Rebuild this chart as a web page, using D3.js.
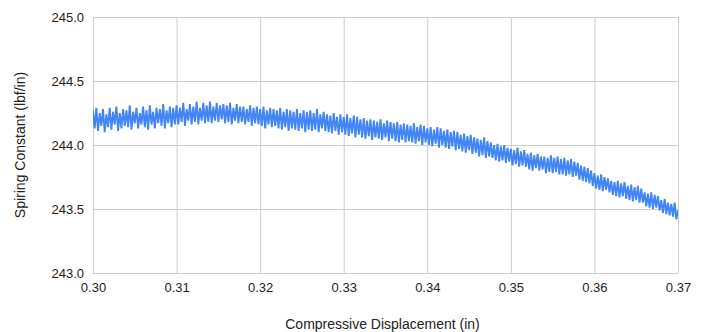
<!DOCTYPE html>
<html>
<head>
<meta charset="utf-8">
<script src="https://cdn.jsdelivr.net/npm/d3@7"></script>
<style>
  body { margin: 0; background: #fff; }
  text { font-family: Arial, "Liberation Sans", sans-serif; }
</style>
</head>
<body>
<svg></svg>
<script>
// displacement is sampled every 0.0002 in from 0.30 to 0.37
let xStart = 0.30, xStep = 0.0002;

// spring constant readings (lbf/in)
let springK = [
  244.27, 244.13, 244.29, 244.11, 244.25, 244.15, 244.28, 244.10, 244.24, 244.14,
  244.29, 244.12, 244.26, 244.16, 244.30, 244.11, 244.25, 244.13, 244.28, 244.15,
  244.27, 244.14, 244.31, 244.12, 244.26, 244.17, 244.29, 244.13, 244.25, 244.16,
  244.30, 244.14, 244.27, 244.12, 244.31, 244.16, 244.26, 244.13, 244.29, 244.17,
  244.28, 244.15, 244.32, 244.13, 244.27, 244.17, 244.30, 244.14, 244.29, 244.16,
  244.31, 244.16, 244.29, 244.18, 244.33, 244.15, 244.28, 244.19, 244.32, 244.16,
  244.30, 244.18, 244.34, 244.16, 244.29, 244.19, 244.33, 244.17, 244.31, 244.18,
  244.34, 244.17, 244.30, 244.19, 244.33, 244.18, 244.31, 244.20, 244.32, 244.17,
  244.31, 244.18, 244.33, 244.16, 244.29, 244.19, 244.32, 244.17, 244.30, 244.18,
  244.30, 244.16, 244.28, 244.18, 244.31, 244.15, 244.29, 244.17, 244.30, 244.16,
  244.28, 244.15, 244.30, 244.13, 244.27, 244.16, 244.29, 244.14, 244.28, 244.15,
  244.27, 244.13, 244.29, 244.12, 244.26, 244.14, 244.28, 244.11, 244.27, 244.13,
  244.26, 244.12, 244.28, 244.11, 244.25, 244.13, 244.27, 244.10, 244.26, 244.12,
  244.27, 244.11, 244.25, 244.12, 244.28, 244.10, 244.24, 244.13, 244.26, 244.11,
  244.24, 244.10, 244.23, 244.09, 244.25, 244.11, 244.22, 244.08, 244.24, 244.10,
  244.22, 244.08, 244.24, 244.07, 244.21, 244.09, 244.23, 244.06, 244.22, 244.08,
  244.20, 244.06, 244.21, 244.05, 244.19, 244.07, 244.20, 244.04, 244.19, 244.06,
  244.18, 244.05, 244.20, 244.04, 244.17, 244.06, 244.19, 244.03, 244.18, 244.05,
  244.17, 244.03, 244.18, 244.02, 244.16, 244.04, 244.17, 244.02, 244.16, 244.03,
  244.15, 244.02, 244.17, 244.01, 244.14, 244.03, 244.16, 244.00, 244.15, 244.02,
  244.13, 244.00, 244.14, 243.99, 244.12, 244.01, 244.14, 243.98, 244.13, 244.00,
  244.11, 243.98, 244.12, 243.97, 244.10, 243.99, 244.11, 243.96, 244.10, 243.97,
  244.08, 243.95, 244.09, 243.94, 244.07, 243.96, 244.08, 243.93, 244.06, 243.94,
  244.05, 243.91, 244.04, 243.92, 244.06, 243.90, 244.03, 243.91, 244.02, 243.90,
  244.00, 243.88, 244.01, 243.87, 243.99, 243.88, 244.00, 243.86, 243.98, 243.87,
  243.97, 243.84, 243.96, 243.85, 243.98, 243.83, 243.95, 243.84, 243.96, 243.83,
  243.93, 243.81, 243.94, 243.80, 243.92, 243.82, 243.93, 243.80, 243.91, 243.81,
  243.91, 243.78, 243.90, 243.79, 243.92, 243.78, 243.90, 243.79, 243.91, 243.77,
  243.89, 243.77, 243.90, 243.76, 243.88, 243.77, 243.89, 243.75, 243.87, 243.76,
  243.86, 243.73, 243.84, 243.72, 243.83, 243.71, 243.82, 243.70, 243.80, 243.68,
  243.78, 243.66, 243.76, 243.65, 243.77, 243.64, 243.75, 243.65, 243.74, 243.63,
  243.72, 243.61, 243.71, 243.60, 243.72, 243.59, 243.70, 243.60, 243.71, 243.58,
  243.68, 243.57, 243.69, 243.56, 243.67, 243.57, 243.68, 243.55, 243.66, 243.55,
  243.63, 243.52, 243.62, 243.51, 243.63, 243.50, 243.61, 243.51, 243.60, 243.49,
  243.57, 243.47, 243.58, 243.46, 243.55, 243.45, 243.54, 243.44, 243.55, 243.42,
  243.49
];

let xTicks = [0.30, 0.31, 0.32, 0.33, 0.34, 0.35, 0.36, 0.37];
let yTicks = [243.0, 243.5, 244.0, 244.5, 245.0];

let width = 702, height = 332;
let margin = {top: 17, right: 24, bottom: 59, left: 93};
let w = width - margin.left - margin.right;
let h = height - margin.top - margin.bottom;

let svg = d3.select("svg").attr("width", width).attr("height", height);
let g = svg.append("g").attr("transform", `translate(${margin.left},${margin.top})`);

let data = springK.map((k, i) => ({x: xStart + i * xStep, y: k}));

let scaleX = d3.scaleLinear().domain([0.30, 0.37]).range([0, w]);
let scaleY = d3.scaleLinear().domain([243, 245]).range([h, 0]);

// grid + labels
let axisY = d3.axisLeft(scaleY).tickValues(yTicks).tickFormat(d3.format(".1f"))
  .tickSize(-w).tickPadding(9);
let gy = g.append("g").call(axisY);
gy.select(".domain").remove();
gy.selectAll("line").attr("stroke", "#cccccc");
gy.selectAll("text").attr("font-size", 13).attr("fill", "#222");

let axisX = d3.axisBottom(scaleX).tickValues(xTicks).tickFormat(d3.format(".2f"))
  .tickSize(-h).tickPadding(10);
let gx = g.append("g").attr("transform", `translate(0,${h})`).call(axisX);
gx.select(".domain").remove();
gx.selectAll("line").attr("stroke", "#cccccc");
gx.selectAll("text").attr("font-size", 13).attr("fill", "#222");

svg.append("defs").append("clipPath").attr("id", "plot")
  .append("rect").attr("width", w).attr("height", h);

let line = d3.line().x(d => scaleX(d.x)).y(d => scaleY(d.y));
g.append("path")
  .datum(data)
  .attr("clip-path", "url(#plot)")
  .attr("fill", "none")
  .attr("stroke", "#4285f4")
  .attr("stroke-width", 1.9)
  .attr("d", line);

// axis titles
svg.append("text")
  .attr("x", margin.left + w / 2 - 3).attr("y", 329)
  .attr("text-anchor", "middle").attr("font-size", 14).attr("fill", "#222")
  .text("Compressive Displacement (in)");

svg.append("text")
  .attr("transform", `translate(25,${margin.top + h / 2}) rotate(-90)`)
  .attr("text-anchor", "middle").attr("font-size", 14).attr("fill", "#222")
  .text("Spiring Constant (lbf/in)");
</script>
</body>
</html>
